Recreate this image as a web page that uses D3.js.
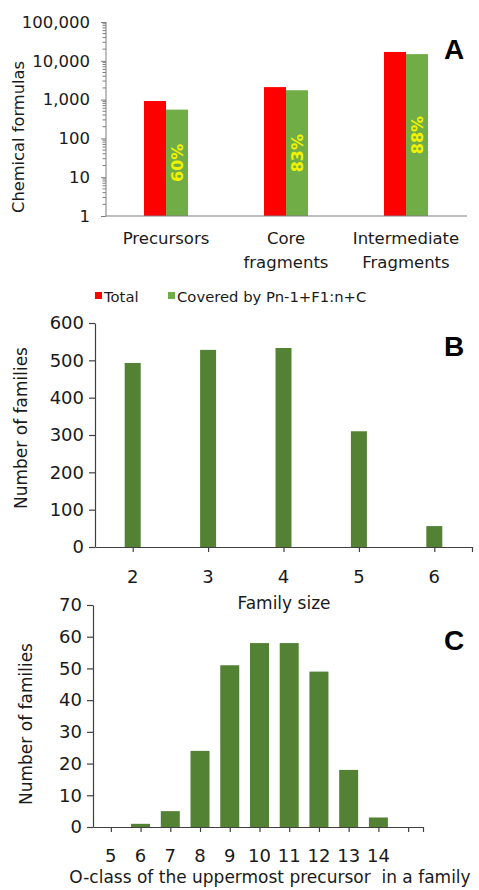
<!DOCTYPE html>
<html>
<head>
<meta charset="utf-8">
<script src="https://cdn.jsdelivr.net/npm/d3@7"></script>
<style>
  html, body { margin: 0; padding: 0; background: #fff; }
  svg { display: block; font-family: "DejaVu Sans", Verdana, sans-serif; }
</style>
</head>
<body>
<svg id="fig" width="479" height="890"></svg>
<script>
// Panel A: chemical formulas per class (log scale)
const classes = ["Precursors", "Core fragments", "Intermediate Fragments"];
const classLines = [["Precursors"], ["Core", "fragments"], ["Intermediate", "Fragments"]];
const seriesNames = ["Total", "Covered by Pn-1+F1:n+C"];
const totalCounts = [920, 2100, 16900];
const coveredCounts = [552, 1743, 14872];
const coveredPct = ["60%", "83%", "88%"];
const logTicks = [1, 10, 100, 1000, 10000, 100000];

// Panel B: families by size
const familySizes = [2, 3, 4, 5, 6];
const familyCounts = [493, 528, 533, 310, 56];
const bTicks = [0, 100, 200, 300, 400, 500, 600];

// Panel C: families by O-class of uppermost precursor
const oClasses = [5, 6, 7, 8, 9, 10, 11, 12, 13, 14, 15];
const oClassCounts = [0, 1, 5, 24, 51, 58, 58, 49, 18, 3, 0];
const oClassLabels = [5, 6, 7, 8, 9, 10, 11, 12, 13, 14];
const cTicks = [0, 10, 20, 30, 40, 50, 60, 70];

const RED = "#ff0000", LIGHT_GREEN = "#70ad47", DARK_GREEN = "#548235";
const TEXT = "#1a1a1a";

const svg = d3.select("#fig");

// ---------- Panel A ----------
{
  const axisColor = "#7f7f7f";
  const y = d3.scaleLog().domain([1, 100000]).range([216, 22]);
  const x0 = d3.scaleBand().domain(classes).range([106, 466]);
  const x1 = d3.scaleBand().domain(seriesNames)
    .range([x0.bandwidth() / 2 - 22, x0.bandwidth() / 2 + 22]);
  const g = svg.append("g");

  const values = [totalCounts, coveredCounts];
  const colors = [RED, LIGHT_GREEN];
  seriesNames.forEach((s, si) => {
    g.selectAll(null).data(classes).enter().append("rect")
      .attr("x", (c) => x0(c) + x1(s))
      .attr("width", x1.bandwidth())
      .attr("y", (c, i) => y(values[si][i]))
      .attr("height", (c, i) => y(1) - y(values[si][i]))
      .attr("fill", colors[si]);
  });

  // percentage labels inside the covered bars
  g.selectAll(null).data(classes).enter().append("text")
    .attr("transform", (c, i) => {
      const cx = x0(c) + x1(seriesNames[1]) + x1.bandwidth() / 2;
      const cy = (y(coveredCounts[i]) + y(1)) / 2;
      return `translate(${cx},${cy}) rotate(-90)`;
    })
    .attr("text-anchor", "middle").attr("dy", "0.36em")
    .attr("fill", "#f2f200").attr("font-weight", "bold").attr("font-size", 16)
    .text((c, i) => coveredPct[i]);

  // y axis with minor log ticks
  const minor = [];
  for (let d = 1; d < 100000; d *= 10) for (let k = 2; k <= 9; k++) minor.push(d * k);
  const yAxis = d3.axisLeft(y).tickValues(logTicks).tickFormat(d3.format(",")).tickSize(5).tickPadding(11);
  const ya = g.append("g").attr("transform", "translate(106,0)").call(yAxis);
  ya.selectAll("path, line").attr("stroke", axisColor);
  ya.selectAll("text").attr("font-size", 16.5).attr("fill", TEXT).attr("font-family", "DejaVu Sans");
  ya.select(".domain").attr("d", `M0,${y(100000)}V${y(1)}`);
  g.append("g").attr("transform", "translate(106,0)")
    .selectAll("line").data(minor).enter().append("line")
    .attr("x1", -3.5).attr("x2", 0)
    .attr("y1", (d) => y(d)).attr("y2", (d) => y(d))
    .attr("stroke", axisColor);

  // x axis baseline
  g.append("line").attr("x1", 106).attr("x2", 467).attr("y1", y(1)).attr("y2", y(1))
    .attr("stroke", axisColor).attr("stroke-width", 1.2);

  // category labels
  classes.forEach((c, i) => {
    const t = g.append("text").attr("x", x0(c) + x0.bandwidth() / 2).attr("y", 244)
      .attr("text-anchor", "middle").attr("font-size", 16.5).attr("fill", TEXT);
    classLines[i].forEach((line, li) => {
      t.append("tspan").attr("x", x0(c) + x0.bandwidth() / 2).attr("dy", li === 0 ? 0 : 24).text(line);
    });
  });

  g.append("text").attr("transform", "translate(18,137) rotate(-90)")
    .attr("text-anchor", "middle").attr("dy", "0.35em")
    .attr("font-size", 16.3).attr("fill", TEXT).text("Chemical formulas");

  g.append("text").attr("x", 454).attr("y", 59).attr("text-anchor", "middle")
    .attr("font-family", "Liberation Sans, Arial, sans-serif").attr("font-weight", "bold")
    .attr("font-size", 28).attr("fill", "#000").text("A");

  // legend
  const legend = g.append("g").attr("font-size", 14.8).attr("fill", TEXT);
  const legendX = [95, 168];
  seriesNames.forEach((s, si) => {
    legend.append("rect").attr("x", legendX[si]).attr("y", 292).attr("width", 7).attr("height", 7)
      .attr("fill", colors[si]);
    legend.append("text").attr("x", legendX[si] + 9).attr("y", 302).text(s);
  });
}

// shared helper for the two linear panels
function linearPanel({ xDomain, xRange, yDomain, yRange, yTickVals, xTickVals, xLabelVals,
                       cats, vals, barW, labelY, titleX, titleY, letter, letterY }) {
  const axisColor = "#404040";
  const g = svg.append("g");
  const x = d3.scaleLinear().domain(xDomain).range(xRange);
  const y = d3.scaleLinear().domain(yDomain).range(yRange);

  g.selectAll(null).data(cats).enter().append("rect")
    .attr("x", (d) => x(d) - barW / 2).attr("width", barW)
    .attr("y", (d, i) => y(vals[i])).attr("height", (d, i) => y(0) - y(vals[i]))
    .attr("fill", DARK_GREEN);

  const ya = g.append("g").attr("transform", `translate(${xRange[0]},0)`)
    .call(d3.axisLeft(y).tickValues(yTickVals).tickSize(6).tickPadding(5).tickSizeOuter(0));
  ya.selectAll("path, line").attr("stroke", axisColor).attr("stroke-width", 1.2);
  ya.selectAll("text").attr("font-size", 18).attr("fill", TEXT).attr("font-family", "DejaVu Sans");

  const xa = g.append("g").attr("transform", `translate(0,${y(0)})`)
    .call(d3.axisBottom(x).tickValues(xTickVals.concat([xDomain[1]])).tickSize(5).tickFormat("").tickSizeOuter(0));
  xa.selectAll("path, line").attr("stroke", axisColor).attr("stroke-width", 1.2);

  g.selectAll(null).data(xLabelVals).enter().append("text")
    .attr("x", (d) => x(d)).attr("y", labelY).attr("text-anchor", "middle")
    .attr("dy", "0.35em").attr("font-size", 18).attr("fill", TEXT).text((d) => d);

  g.append("text").attr("transform", `translate(${titleX},${titleY}) rotate(-90)`)
    .attr("text-anchor", "middle").attr("dy", "0.35em")
    .attr("font-size", 17).attr("fill", TEXT).text("Number of families");

  g.append("text").attr("x", 454).attr("y", letterY).attr("text-anchor", "middle")
    .attr("font-family", "Liberation Sans, Arial, sans-serif").attr("font-weight", "bold")
    .attr("font-size", 28).attr("fill", "#000").text(letter);
  return g;
}

// ---------- Panel B ----------
const gB = linearPanel({
  xDomain: [1.5, 6.5], xRange: [95, 472], yDomain: [0, 600], yRange: [547, 323],
  yTickVals: bTicks, xTickVals: familySizes, xLabelVals: familySizes,
  cats: familySizes, vals: familyCounts, barW: 16, labelY: 577,
  titleX: 21, titleY: 428, letter: "B", letterY: 356
});
gB.append("text").attr("x", 284).attr("y", 609).attr("text-anchor", "middle")
  .attr("font-size", 17).attr("fill", TEXT).text("Family size");

// ---------- Panel C ----------
const gC = linearPanel({
  xDomain: [4.4, 15.5], xRange: [93, 423], yDomain: [0, 70], yRange: [827, 605],
  yTickVals: cTicks, xTickVals: oClasses, xLabelVals: oClassLabels,
  cats: oClasses, vals: oClassCounts, barW: 19, labelY: 856,
  titleX: 26, titleY: 724, letter: "C", letterY: 650
});
gC.append("text").attr("x", 270).attr("y", 883).attr("text-anchor", "middle")
  .attr("font-size", 17).attr("fill", TEXT).text("O-class of the uppermost precursor  in a family")
  .style("white-space", "pre");
</script>
</body>
</html>
